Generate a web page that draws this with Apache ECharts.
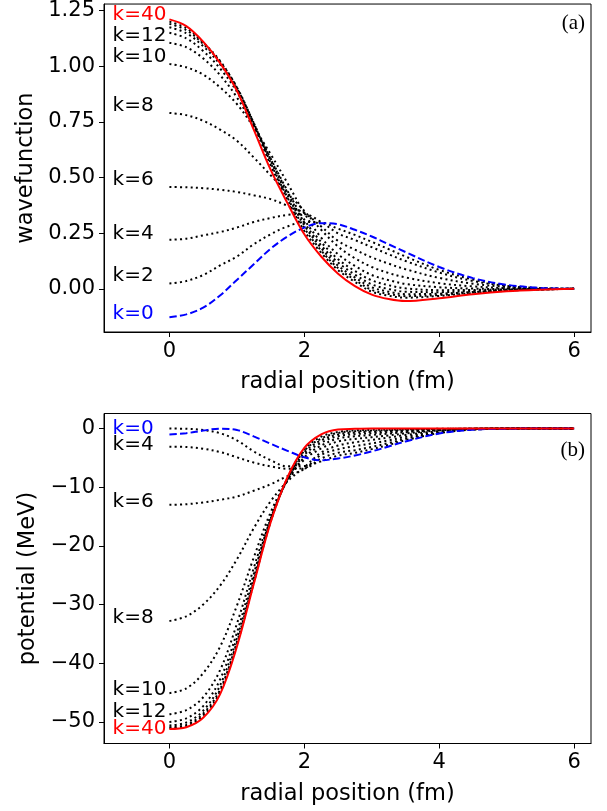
<!DOCTYPE html>
<html>
<head>
<meta charset="utf-8">
<script src="https://cdn.jsdelivr.net/npm/echarts@6/dist/echarts.min.js"></script>
<style>
html,body{margin:0;padding:0;background:#fff;}
#chart{width:607px;height:811px;}
</style>
</head>
<body>
<div id="chart"></div>
<script>
// radial positions (fm)
const xPos = [0,0.25,0.5,0.75,1,1.25,1.5,1.75,2,2.25,2.5,2.75,3,3.25,3.5,4,4.5,5,5.5,6];

// wavefunction (panel a)
const wf_k0  = [-0.128,-0.115,-0.085,-0.03,0.04,0.11,0.18,0.235,0.275,0.295,0.29,0.265,0.235,0.2,0.165,0.098,0.048,0.018,0.004,0];
const wf_k2  = [0.024,0.035,0.062,0.105,0.145,0.2,0.245,0.28,0.3,0.298,0.27,0.242,0.211,0.178,0.145,0.085,0.042,0.015,0.003,0];
const wf_k4  = [0.22,0.225,0.24,0.255,0.275,0.3,0.318,0.332,0.335,0.3,0.249,0.219,0.187,0.155,0.125,0.073,0.035,0.013,0.003,0];
const wf_k6  = [0.457,0.456,0.452,0.445,0.435,0.42,0.403,0.373,0.34,0.28,0.215,0.176,0.141,0.113,0.088,0.049,0.023,0.008,0.001,0];
const wf_k8  = [0.79,0.78,0.755,0.715,0.665,0.59,0.51,0.43,0.35,0.265,0.19,0.137,0.098,0.071,0.051,0.025,0.011,0.003,0,0];
const wf_k10 = [1.01,0.995,0.962,0.905,0.83,0.725,0.605,0.475,0.34,0.23,0.155,0.103,0.062,0.039,0.022,0.007,0.001,-0.001,-0.001,0];
const wf_k12 = [1.105,1.085,1.035,0.96,0.86,0.73,0.585,0.44,0.31,0.21,0.133,0.08,0.038,0.016,0.002,-0.006,-0.005,-0.003,-0.002,0];
const wf_k14 = [1.15,1.125,1.068,0.99,0.885,0.74,0.583,0.432,0.298,0.195,0.118,0.064,0.02,-0.001,-0.013,-0.015,-0.01,-0.005,-0.002,0];
const wf_k16 = [1.175,1.148,1.09,1.008,0.9,0.745,0.575,0.42,0.285,0.183,0.104,0.051,0.007,-0.013,-0.024,-0.022,-0.014,-0.007,-0.003,0];
const wf_k18 = [1.19,1.162,1.1,1.02,0.905,0.745,0.566,0.41,0.273,0.172,0.093,0.04,-0.005,-0.023,-0.033,-0.028,-0.017,-0.008,-0.003,0];
const wf_k20 = [1.2,1.171,1.106,1.024,0.904,0.737,0.556,0.4,0.26,0.162,0.084,0.031,-0.013,-0.031,-0.04,-0.032,-0.019,-0.009,-0.003,0];
const wf_k40 = [1.21,1.18,1.11,1.015,0.89,0.715,0.535,0.385,0.245,0.145,0.068,0.012,-0.026,-0.046,-0.055,-0.042,-0.024,-0.011,-0.004,0];

// potential (panel b), MeV
const v_k0  = [-1.0,-0.8,-0.35,-0.02,-0.25,-1.35,-2.6,-3.8,-4.9,-5.4,-5.1,-4.6,-3.9,-3.05,-2.2,-0.85,-0.2,-0.05,0,0];
const v_k2  = [0.0,-0.05,-0.25,-0.8,-2.0,-3.9,-5.4,-6.45,-6.4,-5.6,-4.62,-4.15,-3.51,-2.79,-1.98,-0.77,-0.18,-0.045,0,0];
const v_k4  = [-3.1,-3.15,-3.45,-4.0,-4.9,-5.8,-6.45,-6.85,-6.8,-5.1,-4.13,-3.69,-3.12,-2.48,-1.76,-0.68,-0.16,-0.04,0,0];
const v_k6  = [-13.0,-12.9,-12.6,-12.15,-11.6,-10.6,-9.5,-8.1,-6.9,-4.5,-3.55,-3.0,-2.54,-2.02,-1.43,-0.55,-0.13,-0.03,0,0];
const v_k8  = [-32.8,-32.0,-30.0,-26.8,-22.3,-17.0,-12.4,-9.0,-6.6,-4.1,-2.9,-2.35,-1.95,-1.55,-1.1,-0.43,-0.1,-0.025,0,0];
const v_k10 = [-45.1,-44.3,-41.7,-37.2,-30.2,-22.0,-14.3,-8.8,-5.3,-3.4,-2.2,-1.78,-1.48,-1.18,-0.84,-0.32,-0.08,-0.02,0,0];
const v_k12 = [-48.7,-48.0,-45.8,-41.2,-33.3,-23.8,-15.0,-8.8,-4.9,-2.9,-1.7,-1.32,-1.09,-0.87,-0.62,-0.24,-0.06,-0.014,0,0];
const v_k14 = [-50.0,-49.4,-47.3,-42.8,-34.8,-24.8,-15.4,-8.7,-4.5,-2.4,-1.3,-0.96,-0.78,-0.62,-0.44,-0.17,-0.04,-0.01,0,0];
const v_k16 = [-50.6,-50.1,-48.1,-43.8,-35.7,-25.5,-15.6,-8.6,-4.1,-2.0,-1.0,-0.69,-0.55,-0.43,-0.31,-0.12,-0.03,-0.007,0,0];
const v_k18 = [-50.9,-50.5,-48.6,-44.5,-36.4,-26.0,-15.8,-8.5,-3.8,-1.7,-0.75,-0.46,-0.35,-0.28,-0.2,-0.08,-0.02,-0.005,0,0];
const v_k20 = [-51.1,-50.7,-48.9,-44.9,-36.8,-26.3,-15.9,-8.4,-3.6,-1.4,-0.58,-0.32,-0.23,-0.19,-0.13,-0.05,-0.01,-0.003,0,0];
const v_k40 = [-51.2,-50.9,-49.3,-45.3,-37.2,-26.5,-16.0,-8.3,-3.3,-1.0,-0.15,-0.05,0,0,0,0,0,0,0,0];

// tick labels
const xTicks = [0,2,4,6];
const wfTicks = [0,0.25,0.5,0.75,1,1.25];
const vTicks = [-50,-40,-30,-20,-10,0];

// curve annotations
const labelX = -0.85;
const wfLabelText = ['k=40','k=12','k=10','k=8','k=6','k=4','k=2','k=0'];
const wfLabelY    = [1.23,1.137,1.042,0.821,0.489,0.245,0.057,-0.11];
const vLabelText  = ['k=0','k=4','k=6','k=8','k=10','k=12','k=40'];
const vLabelY     = [0.0,-2.7,-12.5,-32.3,-44.6,-48.3,-51.1];

const wfDotted = [wf_k2,wf_k4,wf_k6,wf_k8,wf_k10,wf_k12,wf_k14,wf_k16,wf_k18,wf_k20];
const vDotted  = [v_k2,v_k4,v_k6,v_k8,v_k10,v_k12,v_k14,v_k16,v_k18,v_k20];

const FONT = 'DejaVu Sans';
const pair = arr => xPos.map((x,i) => [x, arr[i]]);
const labelColor = t => t === 'k=40' ? '#ff0000' : (t === 'k=0' ? '#0000ff' : '#000000');

function axisX(gi){
  return {
    type:'value', gridIndex:gi, min:-0.97, max:6.25,
    name:'radial position (fm)', nameLocation:'middle', nameGap:39,
    nameTextStyle:{fontFamily:FONT, fontSize:22.5, color:'#000'},
    axisLine:{show:true, onZero:false, lineStyle:{color:'#000', width:1}},
    axisTick:{show:true, length:5, customValues:xTicks, lineStyle:{color:'#000'}},
    axisLabel:{show:true, customValues:xTicks, margin:9, fontFamily:FONT, fontSize:21, color:'#000'},
    splitLine:{show:false}
  };
}
function axisY(gi, min, max, ticks, name, fmt){
  return {
    type:'value', gridIndex:gi, min:min, max:max,
    name:name, nameLocation:'middle', nameGap:63,
    nameTextStyle:{fontFamily:FONT, fontSize:22.5, color:'#000'},
    axisLine:{show:true, onZero:false, lineStyle:{color:'#000', width:1}},
    axisTick:{show:true, length:5, customValues:ticks, lineStyle:{color:'#000'}},
    axisLabel:{show:true, customValues:ticks, margin:9, fontFamily:FONT, fontSize:21, color:'#000', formatter:fmt},
    splitLine:{show:false}
  };
}

const series = [];
function addPanel(gi, blue, dotted, red, lblText, lblY){
  dotted.forEach(arr => series.push({
    type:'line', xAxisIndex:gi, yAxisIndex:gi, data:pair(arr), smooth:0.35,
    symbol:'none', lineStyle:{color:'#000', width:2, type:[2,3.3], cap:'butt'}, z:2
  }));
  series.push({
    type:'line', xAxisIndex:gi, yAxisIndex:gi, data:pair(blue), smooth:0.35,
    symbol:'none', lineStyle:{color:'#0000ff', width:2, type:[7.4,3.2]}, z:3
  });
  series.push({
    type:'line', xAxisIndex:gi, yAxisIndex:gi, data:pair(red), smooth:0.35,
    symbol:'none', lineStyle:{color:'#ff0000', width:2}, z:4
  });
  series.push({
    type:'scatter', xAxisIndex:gi, yAxisIndex:gi, symbolSize:1,
    itemStyle:{color:'rgba(255,255,255,0)'},
    data: lblText.map((t,i) => ({name:t, value:[labelX, lblY[i]],
      label:{color:labelColor(t)}})),
    label:{show:true, position:'right', distance:0, formatter:p => p.name,
      fontFamily:FONT, fontSize:20, opacity:1}, z:5
  });
}
addPanel(0, wf_k0, wfDotted, wf_k40, wfLabelText, wfLabelY);
addPanel(1, v_k0, vDotted, v_k40, vLabelText, vLabelY);

const chart = echarts.init(document.getElementById('chart'), null, {renderer:'canvas'});
chart.setOption({
  animation:false,
  backgroundColor:'#fff',
  grid:[
    {left:104, right:16, top:4, height:328, show:true, borderColor:'#000', borderWidth:1, containLabel:false},
    {left:104, right:16, top:413.5, height:330, show:true, borderColor:'#000', borderWidth:1, containLabel:false}
  ],
  xAxis:[axisX(0), axisX(1)],
  yAxis:[
    axisY(0, -0.194, 1.279, wfTicks, 'wavefunction', v => v.toFixed(2)),
    axisY(1, -53.68, 2.56, vTicks, 'potential (MeV)', v => v < 0 ? '\u2212' + Math.abs(v) : String(v))
  ],
  graphic:[
    {type:'text', right:22, top:13, style:{text:'(a)', font:'21px "Liberation Serif"', fill:'#000'}},
    {type:'text', right:22, top:440, style:{text:'(b)', font:'21px "Liberation Serif"', fill:'#000'}}
  ],
  series:series
});
</script>
</body>
</html>
